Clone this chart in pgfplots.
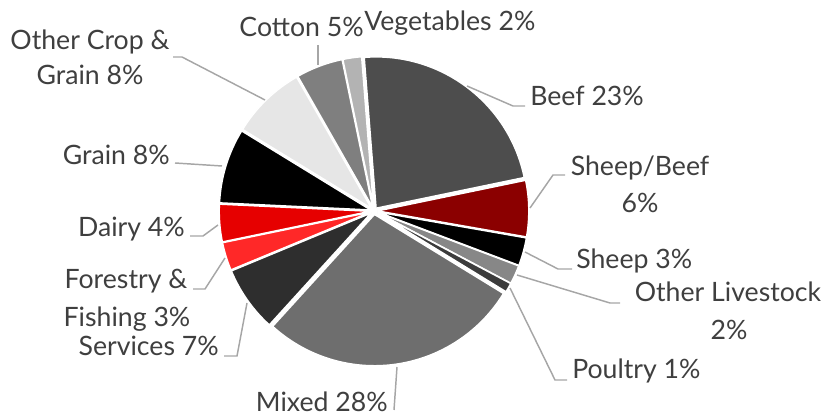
\documentclass[border=0pt]{standalone}
\usepackage{pgfplots}
\pgfplotsset{compat=1.18}
\usepackage{pgfplotstable}
\usepackage{fontspec}
\setmainfont{Lato}

% farm type shares, clockwise from the top
\pgfplotstableread{
value
23
6
3
2
1
28
7
3
4
8
8
5
2
}\piedata

\definecolor{slice0}{HTML}{4D4D4D}
\definecolor{slice1}{HTML}{8B0000}
\definecolor{slice2}{HTML}{000000}
\definecolor{slice3}{HTML}{878787}
\definecolor{slice4}{HTML}{3C3C3C}
\definecolor{slice5}{HTML}{6E6E6E}
\definecolor{slice6}{HTML}{2E2E2E}
\definecolor{slice7}{HTML}{FF2828}
\definecolor{slice8}{HTML}{E60000}
\definecolor{slice9}{HTML}{000000}
\definecolor{slice10}{HTML}{E6E6E6}
\definecolor{slice11}{HTML}{7F7F7F}
\definecolor{slice12}{HTML}{B3B3B3}
\definecolor{labtext}{HTML}{3F3F3F}
\definecolor{leader}{HTML}{A6A6A6}

\tikzset{lab/.style={font=\fontsize{20pt}{24pt}\selectfont, text=labtext, inner sep=0pt}}

\begin{document}
\begin{tikzpicture}
\begin{axis}[
    width=620.25pt, height=312.75pt, scale only axis,
    xmin=0, xmax=827, ymin=0, ymax=417,
    hide axis, clip=false,
]
\path (rel axis cs:0,0) rectangle (rel axis cs:1,1);
\def\angstart{94.5}
\pgfplotsforeachungrouped \i in {0,...,12}{
    \pgfplotstablegetelem{\i}{value}\of\piedata
    \pgfmathsetmacro\angend{\angstart-3.6*\pgfplotsretval}
    \pgfmathsetmacro\angmid{(\angstart+\angend)/2}
    \edef\temp{\noexpand\filldraw[fill=slice\i, draw=white, line width=1.1pt, line join=round]
        ([shift={(\angmid:2.6pt)}]axis cs:374,206) -- ++(\angstart:113.5pt)
        arc[start angle=\angstart, end angle=\angend, radius=113.5pt] -- cycle;}
    \temp
    \let\angstart\angend
}

% leader lines
\begin{scope}[leader, line width=1.1pt]
\draw (axis cs:318,372) -- (axis cs:318,352);
\draw (axis cs:173,360) -- (axis cs:182,360) -- (axis cs:265,317);
\draw (axis cs:175,254) -- (axis cs:222,251);
\draw (axis cs:190,181) -- (axis cs:203,181) -- (axis cs:218,192);
\draw (axis cs:193,128) -- (axis cs:205,128) -- (axis cs:225,159);
\draw (axis cs:224,61) -- (axis cs:237,61) -- (axis cs:247,114);
\draw (axis cs:397,50) -- (axis cs:394,7);
\draw (axis cs:510,129) -- (axis cs:555,37) -- (axis cs:567,37);
\draw (axis cs:517,142) -- (axis cs:610,114) -- (axis cs:620,114);
\draw (axis cs:525,165) -- (axis cs:558,148) -- (axis cs:572,148);
\draw (axis cs:565,242) -- (axis cs:553,242) -- (axis cs:530,209);
\draw (axis cs:525,311) -- (axis cs:513,311) -- (axis cs:467,331);
\end{scope}

% labels
\node[lab, anchor=base east] at (axis cs:364,380) {Cotton 5\%};
\node[lab, anchor=base west] at (axis cs:364,386) {Vegetables 2\%};
\node[lab, anchor=base] at (axis cs:90,367) {Other Crop \&};
\node[lab, anchor=base] at (axis cs:90,332) {Grain 8\%};
\node[lab, anchor=base east] at (axis cs:170,252) {Grain 8\%};
\node[lab, anchor=base east] at (axis cs:185,180) {Dairy 4\%};
\node[lab, anchor=base] at (axis cs:126,128) {Forestry \&};
\node[lab, anchor=base] at (axis cs:127,90) {Fishing 3\%};
\node[lab, anchor=base east] at (axis cs:219,61) {Services 7\%};
\node[lab, anchor=base east] at (axis cs:388,5) {Mixed 28\%};
\node[lab, anchor=base west] at (axis cs:572,38) {Poultry 1\%};
\node[lab, anchor=base] at (axis cs:728,115) {Other Livestock};
\node[lab, anchor=base] at (axis cs:729,77) {2\%};
\node[lab, anchor=base west] at (axis cs:576,148) {Sheep 3\%};
\node[lab, anchor=base] at (axis cs:640,241) {Sheep/Beef};
\node[lab, anchor=base] at (axis cs:640,204) {6\%};
\node[lab, anchor=base west] at (axis cs:530,311) {Beef 23\%};
\end{axis}
\end{tikzpicture}
\end{document}
